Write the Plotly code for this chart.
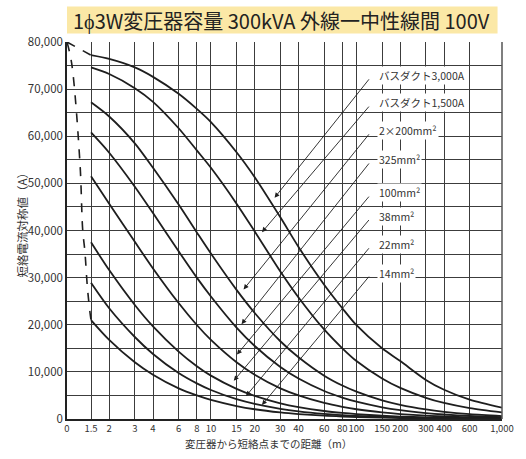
import numpy as np
import plotly.graph_objects as go

# Distances (m) along the horizontal axis and their tick labels
distances = [1.5, 2, 3, 4, 6, 8, 10, 15, 20, 30, 40, 60, 80, 100, 150, 200, 300, 400, 600, 1000]
tick_vals = [0] + distances
tick_text = ["0", "1.5", "2", "3", "4", "6", "8", "10", "15", "20", "30", "40",
             "60", "80", "100", "150", "200", "300", "400", "600", "1,000"]

# Symmetrical short-circuit current (A) for each feeder
busduct_3000 = [77200, 76400, 74600, 72600, 69000, 65800, 63000, 56600, 51300, 42800,
                36500, 28500, 23500, 19900, 15000, 12300, 8300, 6200, 4100, 2400]
busduct_1500 = [74600, 73200, 70200, 67300, 61700, 57000, 53300, 45700, 39800, 31300,
                25800, 19000, 15000, 12300, 8600, 6600, 4500, 3400, 2300, 1400]
cable_2x200 = [67200, 64200, 58500, 53300, 45500, 39600, 35100, 27400, 22500, 16500,
               13100, 9200, 7100, 5800, 3950, 3000, 2030, 1530, 1030, 620]
cable_325 = [60800, 56500, 49300, 43700, 35600, 30000, 26000, 19400, 15500, 11050,
             8600, 5950, 4550, 3670, 2490, 1880, 1260, 950, 640, 380]
cable_100 = [51500, 45700, 37600, 31950, 24600, 19950, 16800, 12050, 9400, 6500,
             5000, 3400, 2580, 2070, 1400, 1050, 700, 530, 350, 210]
cable_38 = [37500, 31600, 24200, 19650, 14300, 11200, 9200, 6400, 4900, 3330,
            2520, 1700, 1280, 1030, 690, 520, 350, 260, 170, 100]
cable_22 = [28900, 23500, 17400, 13800, 9750, 7550, 6150, 4200, 3200, 2160,
            1630, 1100, 830, 660, 440, 330, 220, 170, 110, 70]
cable_14 = [21000, 16800, 12050, 9400, 6500, 5000, 4050, 2750, 2070, 1390,
            1050, 700, 530, 420, 280, 210, 140, 105, 70, 45]

# name, values, distance (m) where its leader arrow meets the curve
series = [
    ("バスダクト3,000A", busduct_3000, 25.8),
    ("バスダクト1,500A", busduct_1500, 21.1),
    ("2×200mm²", cable_2x200, 15.8),
    ("325mm²", cable_325, 15.3),
    ("100mm²", cable_100, 14.2),
    ("38mm²", cable_38, 13.5),
    ("22mm²", cable_22, 16.4),
    ("14mm²", cable_14, 21.1),
]
# Label rows (A); labels start at about 137 m, leader lines end at about 124 m
label_y = [72850, 67060, 61180, 54990, 47960, 42990, 37000, 30980]
label_x = 137.5
leader_x = 124.2

# Transformer-terminal envelope, 0 to 1.5 m
dash_d = [0, 0.29, 0.81, 0.98, 1.125, 1.27, 1.44, 1.5]
dash_v = [80000, 75500, 54300, 40200, 35300, 28100, 22500, 21000]

# Horizontal scale: logarithmic from 1.5 m up, with "0" drawn at the left edge
x_zero = 1.026
def axis_pos(d):
    d = np.asarray(d, dtype=float)
    lz, l15 = np.log10(x_zero), np.log10(1.5)
    return np.where(d < 1.5, 10 ** (lz + d / 1.5 * (l15 - lz)), d)

line_col = "#1e1e1e"
jp_font = "Noto Sans CJK JP"

fig = go.Figure()

fig.add_trace(go.Scatter(x=axis_pos([0, 1.5]), y=[80000, busduct_3000[0]], mode="lines",
                         line=dict(color=line_col, width=1.6, dash="dash"), showlegend=False,
                         hoverinfo="skip"))
fig.add_trace(go.Scatter(x=axis_pos(dash_d), y=dash_v, mode="lines",
                         line=dict(color=line_col, width=1.6, dash="dash", shape="spline"),
                         showlegend=False, hoverinfo="skip"))

for name, vals, _ in series:
    fig.add_trace(go.Scatter(x=distances, y=vals, mode="lines", name=name,
                             line=dict(color=line_col, width=1.8, shape="spline", smoothing=0.8),
                             showlegend=False))

annotations = []
logd = np.log10(distances)
for (name, vals, tip_d), ly in zip(series, label_y):
    tip_v = float(np.interp(np.log10(tip_d), logd, vals))
    annotations.append(dict(x=np.log10(tip_d), y=tip_v, xref="x", yref="y",
                            ax=np.log10(leader_x), ay=ly - 450, axref="x", ayref="y",
                            text="", showarrow=True, arrowhead=2, arrowsize=1.1,
                            arrowwidth=0.9, arrowcolor=line_col, standoff=6))
    annotations.append(dict(x=np.log10(label_x), y=ly, xref="x", yref="y", text=name,
                            showarrow=False, xanchor="left", yanchor="middle",
                            bgcolor="white", borderpad=1,
                            font=dict(size=10.5, color="#333333", family=jp_font)))

annotations += [
    dict(text="変圧器から短絡点までの距離（m）", x=(271 - 67) / 440, y=-(443 - 419) / 377,
         xref="paper", yref="paper", showarrow=False, xanchor="center", yanchor="middle",
         font=dict(size=10.5, color="#333333", family=jp_font)),
    dict(text="短絡電流対称値（A）", x=-(67 - 21) / 440, y=(419 - 222) / 377,
         xref="paper", yref="paper", showarrow=False, textangle=-90,
         xanchor="center", yanchor="middle",
         font=dict(size=11.5, color="#333333", family=jp_font)),
    dict(text="1ϕ3W変圧器容量 300kVA 外線一中性線間 100V", x=(283.5 - 67) / 440,
         y=(419 - 20) / 377, xref="paper", yref="paper", showarrow=False,
         xanchor="center", yanchor="middle",
         font=dict(size=20, color="#222222", family=jp_font)),
]

fig.update_layout(
    width=526, height=459,
    margin=dict(l=67, r=19, t=42, b=40),
    paper_bgcolor="white", plot_bgcolor="white",
    font=dict(family=jp_font, color="#333333", size=11),
    annotations=annotations,
    shapes=[
        dict(type="rect", xref="paper", yref="paper", x0=0, x1=(502.5 - 67) / 440,
             y0=(419 - 6.5) / 377, y1=(419 - 33.5) / 377, fillcolor="#FBE8A6",
             line=dict(width=0), layer="below"),
        dict(type="line", xref="paper", yref="paper", x0=1, x1=1, y0=0, y1=1,
             line=dict(color="#555555", width=1.5)),
    ],
    xaxis=dict(type="log", range=[np.log10(x_zero), 3], tickvals=axis_pos(tick_vals),
               ticktext=tick_text, tickangle=0, showgrid=True, gridcolor="#3c3c3c",
               gridwidth=1.1, showline=True, linecolor="#222222", linewidth=1.5,
               ticks="", tickfont=dict(size=9.5, color="#333333"), zeroline=False),
    yaxis=dict(range=[0, 80000], dtick=10000, tickformat=",d", showgrid=True,
               gridcolor="#3c3c3c", gridwidth=1.1,
               minor=dict(dtick=5000, showgrid=True, gridcolor="#3c3c3c", gridwidth=1.1),
               showline=True, linecolor="#222222", linewidth=1.5, ticks="",
               tickfont=dict(size=11.5, color="#333333"), zeroline=False),
)

fig.write_html("out.html")
